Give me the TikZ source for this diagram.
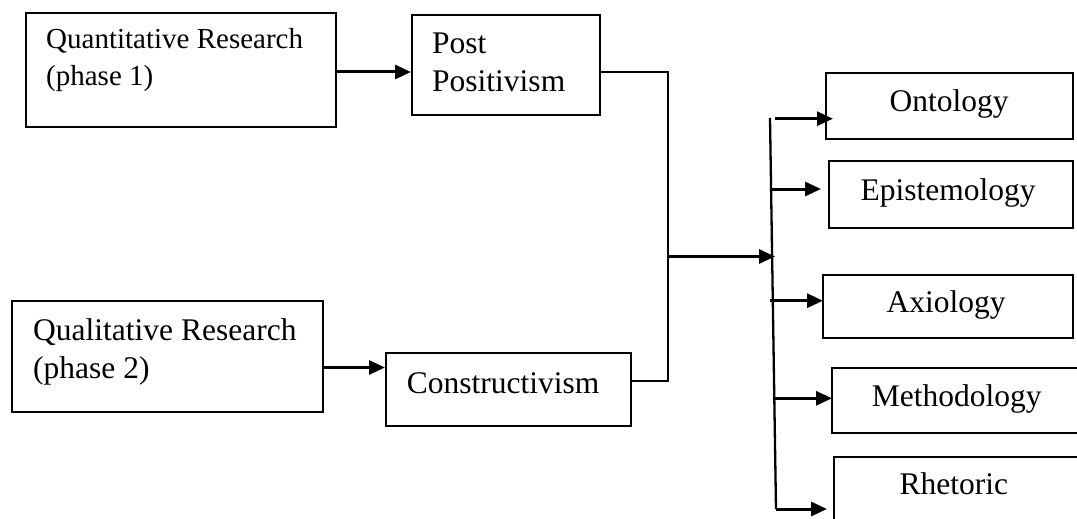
\documentclass[tikz,border=0pt]{standalone}
\usepackage{fontspec}
\setmainfont{Liberation Serif}
\usetikzlibrary{arrows.meta}
\begin{document}
\begin{tikzpicture}[x=1pt,y=-1pt,
  box/.style={draw, line width=2.3pt, inner sep=0pt, anchor=north west},
  txt/.style={inner sep=0pt, font=\fontsize{31.5}{38}\selectfont},
  conn/.style={line width=2.3pt},
  arr/.style={line width=3pt, -{Triangle[length=16pt,width=14pt]}}]
\useasboundingbox (0,0) rectangle (1077,519);
\clip (0,0) rectangle (1077,519);
% left boxes
\node[box, minimum width=310pt, minimum height=114pt] (qr1) at (25,12) {};
\node[txt, font=\fontsize{29}{36}\selectfont, anchor=base west] (qr1t) at (46,49)
  {\vtop{\hbox{Quantitative Research}\hbox{(phase 1)}}};
\node[box, minimum width=188pt, minimum height=100pt] (pp) at (411,14) {};
\node[txt, anchor=base west] (ppt) at (432,54)
  {\vtop{\hbox{Post}\hbox{Positivism}}};
\node[box, minimum width=311pt, minimum height=111pt] (qr2) at (11,300) {};
\node[txt, anchor=base west] (qr2t) at (33,340.7)
  {\vtop{\hbox{Qualitative Research}\hbox{(phase 2)}}};
\node[box, minimum width=245pt, minimum height=73pt] (con) at (385,352) {};
\node[txt, anchor=base west] (cont) at (406.7,393) {Constructivism};
% right boxes
\node[box, minimum width=247pt, minimum height=66pt] (ont) at (825,72) {};
\node[txt, anchor=base] (ontt) at (949,111.7) {Ontology};
\node[box, minimum width=244pt, minimum height=67pt] (epi) at (828,160) {};
\node[txt, anchor=base] (epit) at (948,200) {Epistemology};
\node[box, minimum width=250pt, minimum height=63pt] (axi) at (822,274) {};
\node[txt, anchor=base] (axit) at (946,312.7) {Axiology};
\node[box, minimum width=260pt, minimum height=65pt] (met) at (831,367) {};
\node[txt, anchor=base] (mett) at (956.7,406.7) {Methodology};
\node[box, minimum width=260pt, minimum height=80pt] (rhe) at (833,456) {};
\node[txt, anchor=base] (rhet) at (953.8,494) {Rhetoric};
% connectors
\coordinate (j1) at (668,72);
\coordinate (j2) at (668,381);
\coordinate (j) at (668,256.5);
\coordinate (bt) at (770,118);
\coordinate (bb) at (776,509);
\coordinate (bm) at (775,256.5);
\coordinate (s1) at (775,118.7);
\coordinate (s2) at (770,189);
\coordinate (s3) at (770,300.7);
\coordinate (s4) at (775,398.3);
\draw[arr] (qr1.east |- 0,72) -- (pp.west |- 0,72);
\draw[arr] (qr2.east |- 0,367.5) -- (con.west |- 0,367.5);
\draw[conn] (pp.east |- 0,72) -- (j1) -- (j2) -- (con.east |- 0,381);
\draw[arr] (j) -- (bm);
\draw[conn] (bt) -- (bb);
\draw[arr, shorten >=-8pt] (s1) -- (ont.west |- s1);
\draw[arr, shorten >=7pt] (s2) -- (epi.west |- s2);
\draw[arr, shorten >=-1pt] (s3) -- (axi.west |- s3);
\draw[arr, shorten >=-1pt] (s4) -- (met.west |- s4);
\draw[arr, shorten >=6pt] (bb) -- (rhe.west |- bb);
\end{tikzpicture}
\end{document}
